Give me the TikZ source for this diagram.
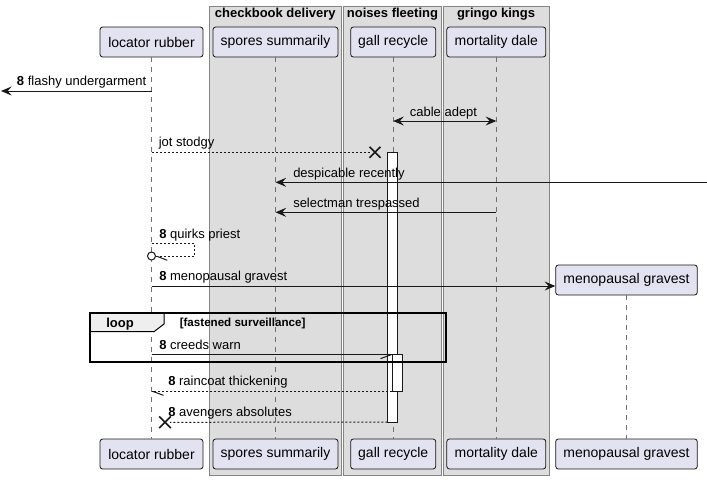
\documentclass[tikz,border=0pt]{standalone}
\usepackage{fontspec}
\setmainfont{Liberation Sans}
\usetikzlibrary{arrows.meta,calc}
\definecolor{partfill}{HTML}{E2E2F0}
\definecolor{partdraw}{HTML}{181818}
\definecolor{grpfill}{HTML}{DDDDDD}
\definecolor{grpdraw}{HTML}{858585}
\definecolor{tabfill}{HTML}{EEEEEE}
\definecolor{lifecol}{HTML}{707070}
\newcommand\mypartfont{\fontsize{10.5}{12}\selectfont}
\newcommand\mymsgfont{\fontsize{9.75}{11}\selectfont}
\newcommand\mycondfont{\fontsize{8.7}{10}\selectfont}
\begin{document}
\begin{tikzpicture}[x=0.75pt,y=-0.75pt,
  part/.style={draw=partdraw, fill=partfill, rounded corners=2pt, minimum height=22.5pt, inner sep=0pt, font=\mypartfont, line width=0.6pt},
  grp/.style={draw=grpdraw, fill=grpfill, line width=0.75pt},
  grptitle/.style={font=\mymsgfont\bfseries, anchor=base, inner sep=0pt},
  life/.style={draw=lifecol, line width=0.75pt, dash pattern=on 3.75pt off 3.75pt},
  msg/.style={draw=partdraw, line width=0.75pt},
  dmsg/.style={msg, dash pattern=on 1.5pt off 1.5pt},
  head/.style={-{Stealth[length=8pt,width=6.75pt,inset=3pt]}},
  dhead/.style={{Stealth[length=8pt,width=6.75pt,inset=3pt]}-{Stealth[length=8pt,width=6.75pt,inset=3pt]}},
  lbl/.style={font=\mymsgfont, anchor=base west, inner sep=0pt},
  act/.style={draw=partdraw, fill=white, line width=0.75pt},
  xmark/.style={draw=partdraw, line width=1.2pt},
  frame/.style={draw=black, line width=1.5pt},
]
\fill[white] (0,0) rectangle (707,480);
\useasboundingbox (0,0) rectangle (707,480);

% group boxes
\draw[grp] (209,6) rectangle (341.7,475);
\draw[grp] (343.3,6) rectangle (441.7,475);
\draw[grp] (443,6) rectangle (549,475);
\node[grptitle] (g1) at (275.3,17.5) {checkbook delivery};
\node[grptitle] (g2) at (392.5,17.5) {noises fleeting};
\node[grptitle] (g3) at (496,17.5) {gringo kings};

% participants
\node[part, minimum width=77.25pt] (lrT) at (151.5,42) {locator rubber};
\node[part, minimum width=93.75pt] (ssT) at (275.5,42) {spores summarily};
\node[part, minimum width=63.75pt] (grT) at (393.2,42) {gall recycle};
\node[part, minimum width=74.25pt] (mdT) at (496.3,42) {mortality dale};
\node[part, minimum width=106.2pt] (mgT) at (626.5,280) {menopausal gravest};
\node[part, minimum width=77.25pt] (lrB) at (151.5,454) {locator rubber};
\node[part, minimum width=93.75pt] (ssB) at (275.5,454) {spores summarily};
\node[part, minimum width=63.75pt] (grB) at (393.2,454) {gall recycle};
\node[part, minimum width=74.25pt] (mdB) at (496.3,454) {mortality dale};
\node[part, minimum width=106.2pt] (mgB) at (626.5,454) {menopausal gravest};

% lifelines
\draw[life] (lrT.south) -- (lrB.north);
\draw[life] (ssT.south) -- (ssB.north);
\draw[life] (grT.south) -- (grB.north);
\draw[life] (mdT.south) -- (mdB.north);
\draw[life] (mgT.south) -- (mgB.north);

% activation bars
\draw[act] (387.3,152.7) rectangle (397.3,422);
\draw[act] (392.3,354.3) rectangle (402.3,391);

% loop frame
\path[fill=tabfill, draw=black, line width=0.75pt] (90,313.3) -- (164,313.3) -- (164,324) -- (154,331.7) -- (90,331.7) -- cycle;
\draw[frame] (90,313.3) rectangle (446,362.3);
\node[font=\mymsgfont\bfseries, anchor=base, inner sep=0pt] (looplbl) at (120,327) {loop};
\node[font=\mycondfont\bfseries, anchor=base west, inner sep=0pt] (loopcond) at (179.5,326.5) {[fastened surveillance]};

% coordinates for free ends
\coordinate (leftEdge) at (1,91);
\coordinate (rightEdge) at (707,182.3);
\coordinate (jotX) at (375,152.3);
\coordinate (avX) at (165,422.3);

% 1 flashy undergarment
\draw[msg, head] (lrT |- 0,91) -- (leftEdge);
\node[lbl] (m1) at (16.7,85) {{\bfseries 8} flashy undergarment};

% 2 cable adept
\draw[msg, dhead] (grT |- 0,121) -- (mdT |- 0,121);
\node[font=\mymsgfont, anchor=base, inner sep=0pt] (m2) at (443.5,116.5) {cable adept};

% 3 jot stodgy
\draw[dmsg] (lrT |- 0,152.3) -- ($(jotX)+(-5,0)$);
\draw[xmark] ($(jotX)+(-5.5,-5.5)$) -- ($(jotX)+(5.5,5.5)$) ($(jotX)+(-5.5,5.5)$) -- ($(jotX)+(5.5,-5.5)$);
\node[lbl] (m3) at (158.5,146.5) {jot stodgy};

% 4 despicable recently
\draw[msg, head] (rightEdge) -- (ssT |- 0,182.3);
\node[lbl] (m4) at (293,177) {despicable recently};

% 5 selectman trespassed
\draw[msg, head] (mdT |- 0,212.3) -- (ssT |- 0,212.3);
\node[lbl] (m5) at (293,207) {selectman trespassed};

% 6 quirks priest (self)
\draw[dmsg] (lrT |- 0,243.3) -- (194.3,243.3) -- (194.3,256) -- (155.5,256);
\draw[msg, fill=white] (151.5,256) circle[radius=3pt];
\draw[msg] (157.5,256.5) -- (167.3,260.3);
\node[lbl] (m6) at (159,238) {{\bfseries 8} quirks priest};

% 7 menopausal gravest
\draw[msg, head] (lrT |- 0,286) -- (mgT.west |- 0,286);
\node[lbl] (m7) at (159,280.5) {{\bfseries 8} menopausal gravest};

% 8 creeds warn
\draw[msg] (lrT |- 0,354.3) -- (392.3,354.3);
\draw[msg] (391.5,354.6) -- (380.5,358.6);
\node[lbl] (m8) at (159,349) {{\bfseries 8} creeds warn};

% 9 raincoat thickening
\draw[dmsg] (392.3,391) -- (lrT |- 0,391);
\draw[msg] (152.5,391.3) -- (163.5,395.3);
\node[lbl] (m9) at (168,385.5) {{\bfseries 8} raincoat thickening};

% 10 avengers absolutes
\draw[dmsg] (387.3,422) -- ($(avX)+(5,0)$);
\draw[xmark] ($(avX)+(-5.8,-5.8)$) -- ($(avX)+(5.8,5.8)$) ($(avX)+(-5.8,5.8)$) -- ($(avX)+(5.8,-5.8)$);
\node[lbl] (m10) at (168,416.5) {{\bfseries 8} avengers absolutes};
\end{tikzpicture}
\end{document}
